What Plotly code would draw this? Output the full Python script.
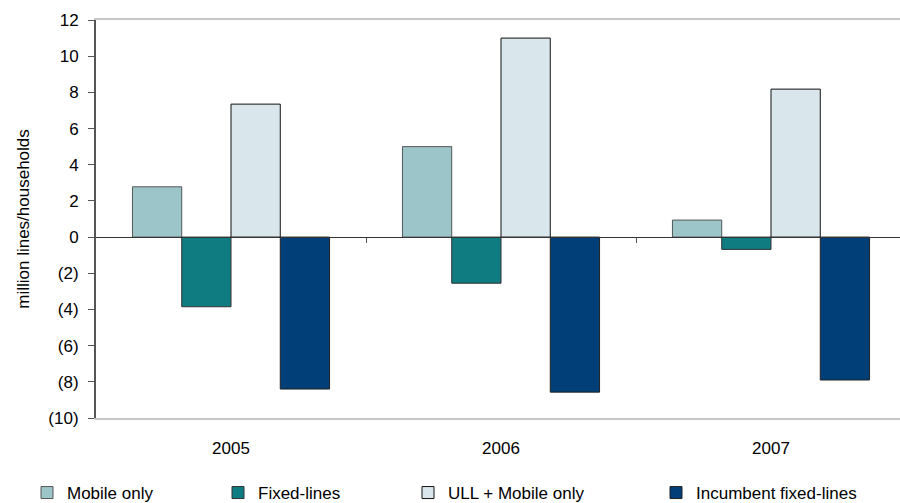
import plotly.graph_objects as go

# Year categories and net change per series (million lines/households)
years = ["2005", "2006", "2007"]
series_names = ["Mobile only", "Fixed-lines", "ULL + Mobile only", "Incumbent fixed-lines"]
mobile_only = [2.78, 5.0, 0.94]
fixed_lines = [-3.85, -2.55, -0.68]
ull_mobile_only = [7.35, 11.0, 8.18]
incumbent_fixed = [-8.4, -8.57, -7.9]
series_values = [mobile_only, fixed_lines, ull_mobile_only, incumbent_fixed]
series_colors = ["#9CC5C9", "#0F7C82", "#D9E7EC", "#003F77"]
series_outline = ["#555555", "#333333", "#111111", "#222222"]

y_tickvals = [12, 10, 8, 6, 4, 2, 0, -2, -4, -6, -8, -10]
y_ticktext = ["12", "10", "8", "6", "4", "2", "0", "(2)", "(4)", "(6)", "(8)", "(10)"]

FONT = "Liberation Sans, Arial, sans-serif"
FS = 17

# one legend per series so each entry sits at its own horizontal spot
legend_ids = ["legend", "legend2", "legend3", "legend4"]
legend_x_px = [27, 218, 408, 656]

fig = go.Figure()
for name, vals, col, oc, lid in zip(series_names, series_values, series_colors,
                                    series_outline, legend_ids):
    fig.add_trace(go.Bar(
        x=years, y=vals, name=name, legend=lid,
        marker=dict(color=col, line=dict(color=oc, width=1)),
    ))

# secondary category axis drawn along the zero line, carrying the boundary ticks
fig.add_trace(go.Scatter(x=years, y=[0, 0, 0], xaxis="x2", mode="none",
                         showlegend=False, hoverinfo="skip"))

x_range = [-0.5, -0.5 + 804 / 270]

legend_common = dict(
    orientation="h", xref="container", yref="container",
    xanchor="left", yanchor="middle", y=1 - 493 / 503,
    font=dict(family=FONT, size=FS, color="#000000"),
    itemwidth=30, bgcolor="rgba(0,0,0,0)", borderwidth=0,
)
legends = {}
for lid, px in zip(legend_ids, legend_x_px):
    legends[lid] = dict(legend_common, x=px / 900)

fig.update_layout(
    width=900, height=503,
    margin=dict(l=96, r=0, t=20, b=85),
    paper_bgcolor="white", plot_bgcolor="white",
    font=dict(family=FONT, size=FS, color="#000000"),
    barmode="group", bargap=0.27, bargroupgap=0,
    xaxis=dict(
        type="category", range=x_range,
        showline=True, mirror=True, linecolor="#C8C8C8", linewidth=2,
        ticks="", showgrid=False, zeroline=False,
        ticklabelstandoff=14,
        tickfont=dict(family=FONT, size=FS, color="#000000"),
    ),
    xaxis2=dict(
        overlaying="x", anchor="free", position=10 / 22, side="bottom",
        type="category", range=x_range,
        tickmode="array", tickvals=[0.5, 1.5], ticks="outside", ticklen=5,
        tickcolor="#555555", tickwidth=1,
        showticklabels=False, showline=True, linecolor="#333333", linewidth=1,
        showgrid=False, zeroline=False,
    ),
    yaxis=dict(
        range=[-10, 12], tickmode="array", tickvals=y_tickvals, ticktext=y_ticktext,
        showline=True, linecolor="#555555", linewidth=2,
        ticks="outside", ticklen=6, tickcolor="#555555",
        ticklabelstandoff=6,
        showgrid=False, zeroline=False,
        tickfont=dict(family=FONT, size=FS, color="#000000"),
        title=dict(text="million lines/households", standoff=14,
                   font=dict(family=FONT, size=FS, color="#000000")),
    ),
    **legends,
)

fig.write_html("out.html")
